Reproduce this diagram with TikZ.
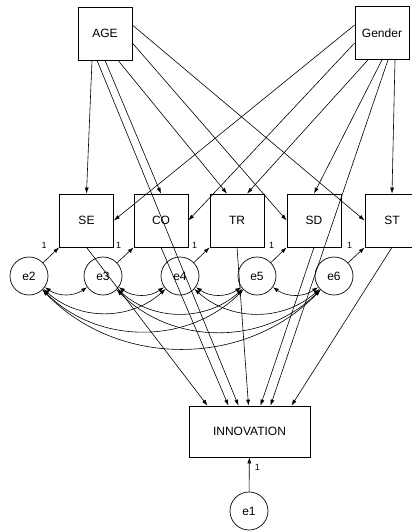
\documentclass[tikz,border=0pt]{standalone}
\usepackage{fontspec}
\setmainfont{Liberation Sans}
\usetikzlibrary{arrows.meta, calc, positioning}

\begin{document}
\begin{tikzpicture}[x=1pt, y=-1pt,
            var/.style={rectangle, draw, line width=0.7pt, minimum width=54pt, minimum height=53pt, inner sep=0pt, font=\fontsize{12}{14}\selectfont},
            err/.style={circle, draw, line width=0.7pt, minimum size=38pt, inner sep=0pt, font=\fontsize{12}{14}\selectfont},
            reg/.style={line width=0.6pt, -{Latex[length=6pt,width=4pt]}},
            cov/.style={line width=0.6pt, {Latex[length=6pt,width=4pt]}-{Latex[length=6pt,width=4pt]}},
            one/.style={font=\fontsize{9}{10}\selectfont, inner sep=0pt}]
    \useasboundingbox (0,0) rectangle (412,531);
    % observed variables
    \node[var] (age) at (105,33.5) {AGE};
    \node[var] (gender) at (382,33) {Gender};
    \node[var] (se) at (86.5,220.5) {SE};
    \node[var] (co) at (161,220.5) {CO};
    \node[var] (tr) at (237,220.5) {TR};
    \node[var] (sd) at (314,220.5) {SD};
    \node[var] (st) at (392,220.5) {ST};
    \node[var, minimum width=121pt, minimum height=51pt] (inno) at (249.5,431.5) {INNOVATION};
    % errors
    \node[err] (e2) at (29,276) {e2};
    \node[err] (e3) at (103,276) {e3};
    \node[err] (e4) at (180,276) {e4};
    \node[err] (e5) at (257,276) {e5};
    \node[err] (e6) at (334,276) {e6};
    \node[err] (e1) at (249,511) {e1};

    % AGE paths
    \draw[reg] ([xshift=-13pt]age.south) -- (se.north);
    \draw[reg] (age.south) -- (co.north);
    \draw[reg] ([xshift=13pt]age.south) -- ([xshift=-10pt]tr.north);
    \draw[reg] ([yshift=-9.5pt]age.east) -- (sd.west);
    \draw[reg] ([yshift=8.5pt]age.east) -- (st.west);
    \draw[reg] ([xshift=-8pt]age.south) -- ([xshift=-11pt]inno.north);
    % Gender paths
    \draw[reg] ([yshift=8pt]gender.west) -- (se.east);
    \draw[reg] ([yshift=-10pt]gender.west) -- (co.east);
    \draw[reg] ([xshift=-14pt]gender.south) -- ([xshift=10pt]tr.north);
    \draw[reg] (gender.south) -- (sd.north);
    \draw[reg] ([xshift=6pt]gender.south) -- ([xshift=21pt]inno.north);
    \draw[reg] ([xshift=13pt]gender.south) -- (st.north);
    % mediators to INNOVATION
    \draw[reg] (se.south) -- ([xshift=-42pt]inno.north);
    \draw[reg] (co.south) -- ([xshift=-21pt]inno.north);
    \draw[reg] (tr.south) -- ([xshift=-1pt]inno.north);
    \draw[reg] (sd.south) -- ([xshift=11pt]inno.north);
    \draw[reg] (st.south) -- ([xshift=42pt]inno.north);

    % error terms
    \foreach \e/\v in {e2/se, e3/co, e4/tr, e5/sd, e6/st}{
        \draw[reg] (\e) -- (\v.south west);
        \node[one] (l\e) at ([shift={(-15,-2)}]\v.south west) {1};
    }
    \draw[reg] (e1) -- (inno);
    \node[one] (le1) at ([shift={(8,10)}]inno.south) {1};

    % covariances
    \foreach \a/\b/\ang in {e2/e3/35, e3/e4/35, e4/e5/35, e5/e6/35,
                            e2/e4/42, e3/e5/42, e4/e6/42,
                            e2/e5/45, e3/e6/45, e2/e6/46}
        \draw[cov] (\a) to[bend right=\ang] (\b);
\end{tikzpicture}
\end{document}
